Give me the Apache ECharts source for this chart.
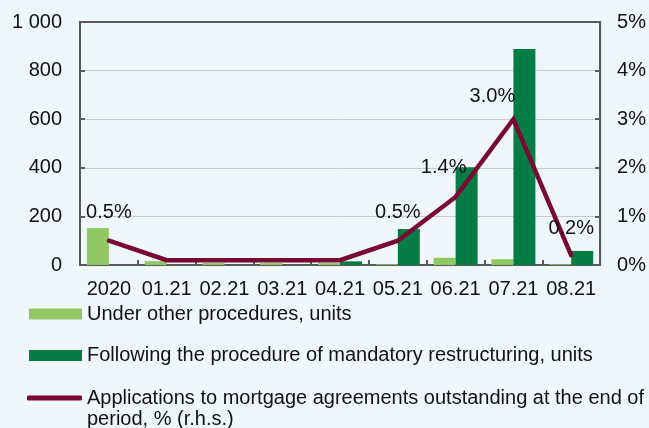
<!DOCTYPE html>
<html>
<head>
<meta charset="UTF-8" />
<title>Mortgage restructuring applications</title>
<script src="https://cdn.jsdelivr.net/npm/echarts@6/dist/echarts.min.js"></script>
<style>
  html, body { margin: 0; padding: 0; background: #f0f7fb; }
  #chart { width: 649px; height: 428px; }
</style>
</head>
<body>
<div id="chart"></div>
<script>
var categories = ['2020', '01.21', '02.21', '03.21', '04.21', '05.21', '06.21', '07.21', '08.21'];
var otherProc = [152, 16, 8, 8, 8, 3, 30, 24, 3];
var mandatory = [0, 0, 0, 0, 15, 148, 402, 889, 58];
var sharePct = [0.5, 0.1, 0.1, 0.1, 0.1, 0.5, 1.4, 3.0, 0.2];
// which points carry a label, and how far to nudge them
var labelShift = { 0: [0, -13], 5: [0, -13], 6: [-12, -14], 7: [-21, -8], 8: [0, -12] };

var nameOther = 'Under other procedures, units';
var nameMand = 'Following the procedure of mandatory restructuring, units';
var nameLine = 'Applications to mortgage agreements outstanding at the end of period, % (r.h.s.)';

var font = 'Liberation Sans, Arial, sans-serif';
var fs = 20;
var axisCol = '#5a5a5a';

var lineData = sharePct.map(function (v, i) {
    var s = labelShift[i];
    if (!s) return { value: v, label: { show: false } };
    return { value: v, label: { show: true, offset: s } };
});

var chart = echarts.init(document.getElementById('chart'));
chart.setOption({
    backgroundColor: '#f0f7fb',
    animation: false,
    textStyle: { fontFamily: font },
    grid: {
        left: 80, right: 47, top: 22, bottom: 163,
        show: true, borderColor: axisCol, borderWidth: 2, backgroundColor: 'transparent'
    },
    legend: [
        {
            data: [nameOther], left: 29, top: 304, padding: 0, selectedMode: false,
            icon: 'rect', itemWidth: 53, itemHeight: 11,
            textStyle: { fontFamily: font, fontSize: fs, color: '#111' }
        },
        {
            data: [nameMand], left: 29, top: 345.5, padding: 0, selectedMode: false,
            icon: 'rect', itemWidth: 53, itemHeight: 11,
            textStyle: { fontFamily: font, fontSize: fs, color: '#111' }
        },
        {
            // blank first line keeps the icon level with the first text line
            data: [nameLine], left: 27, top: 366.5, padding: 0, selectedMode: false,
            icon: 'roundRect', itemWidth: 55, itemHeight: 5,
            formatter: function (n) { return '\n' + n.replace(' period', '\nperiod'); },
            textStyle: { fontFamily: font, fontSize: fs, color: '#111', lineHeight: 21 }
        }
    ],
    xAxis: {
        type: 'category',
        data: categories,
        axisLine: { lineStyle: { color: axisCol, width: 2 } },
        axisTick: { show: true, inside: true, length: 5, lineStyle: { color: axisCol, width: 2 } },
        axisLabel: { color: '#111', fontSize: fs, fontFamily: font, margin: 14, interval: 0 },
        splitLine: { show: false }
    },
    yAxis: [
        {
            type: 'value', min: 0, max: 1000, interval: 200,
            axisLine: { show: true, lineStyle: { color: axisCol, width: 2 } },
            axisTick: { show: true, inside: true, length: 5, lineStyle: { color: axisCol, width: 2 } },
            axisLabel: {
                color: '#111', fontSize: fs, fontFamily: font, margin: 18,
                formatter: function (v) { return v === 1000 ? '1 000' : String(v); }
            },
            splitLine: { show: true, showMinLine: false, showMaxLine: false, lineStyle: { color: '#c6cacd', width: 1 } }
        },
        {
            type: 'value', min: 0, max: 5, interval: 1, position: 'right',
            axisLine: { show: true, lineStyle: { color: axisCol, width: 2 } },
            axisTick: { show: true, inside: true, length: 5, lineStyle: { color: axisCol, width: 2 } },
            axisLabel: { color: '#111', fontSize: fs, fontFamily: font, margin: 17, formatter: '{value}%' },
            splitLine: { show: false }
        }
    ],
    series: [
        {
            name: nameOther, type: 'bar', data: otherProc,
            barWidth: 22, barGap: '0%',
            itemStyle: { color: '#92c864' }
        },
        {
            name: nameMand, type: 'bar', data: mandatory,
            barWidth: 22, barGap: '0%',
            itemStyle: { color: '#067c45' }
        },
        {
            name: nameLine, type: 'line', yAxisIndex: 1, data: lineData,
            symbol: 'circle', symbolSize: 0.1, showSymbol: true, z: 5,
            itemStyle: { color: '#7a0a33' },
            lineStyle: { color: '#7a0a33', width: 4.5, cap: 'round', join: 'miter' },
            label: {
                show: true, position: 'top', color: '#111', fontSize: fs, fontFamily: font,
                formatter: function (p) { return Number(p.value).toFixed(1) + '%'; }
            }
        }
    ]
});
</script>
</body>
</html>
